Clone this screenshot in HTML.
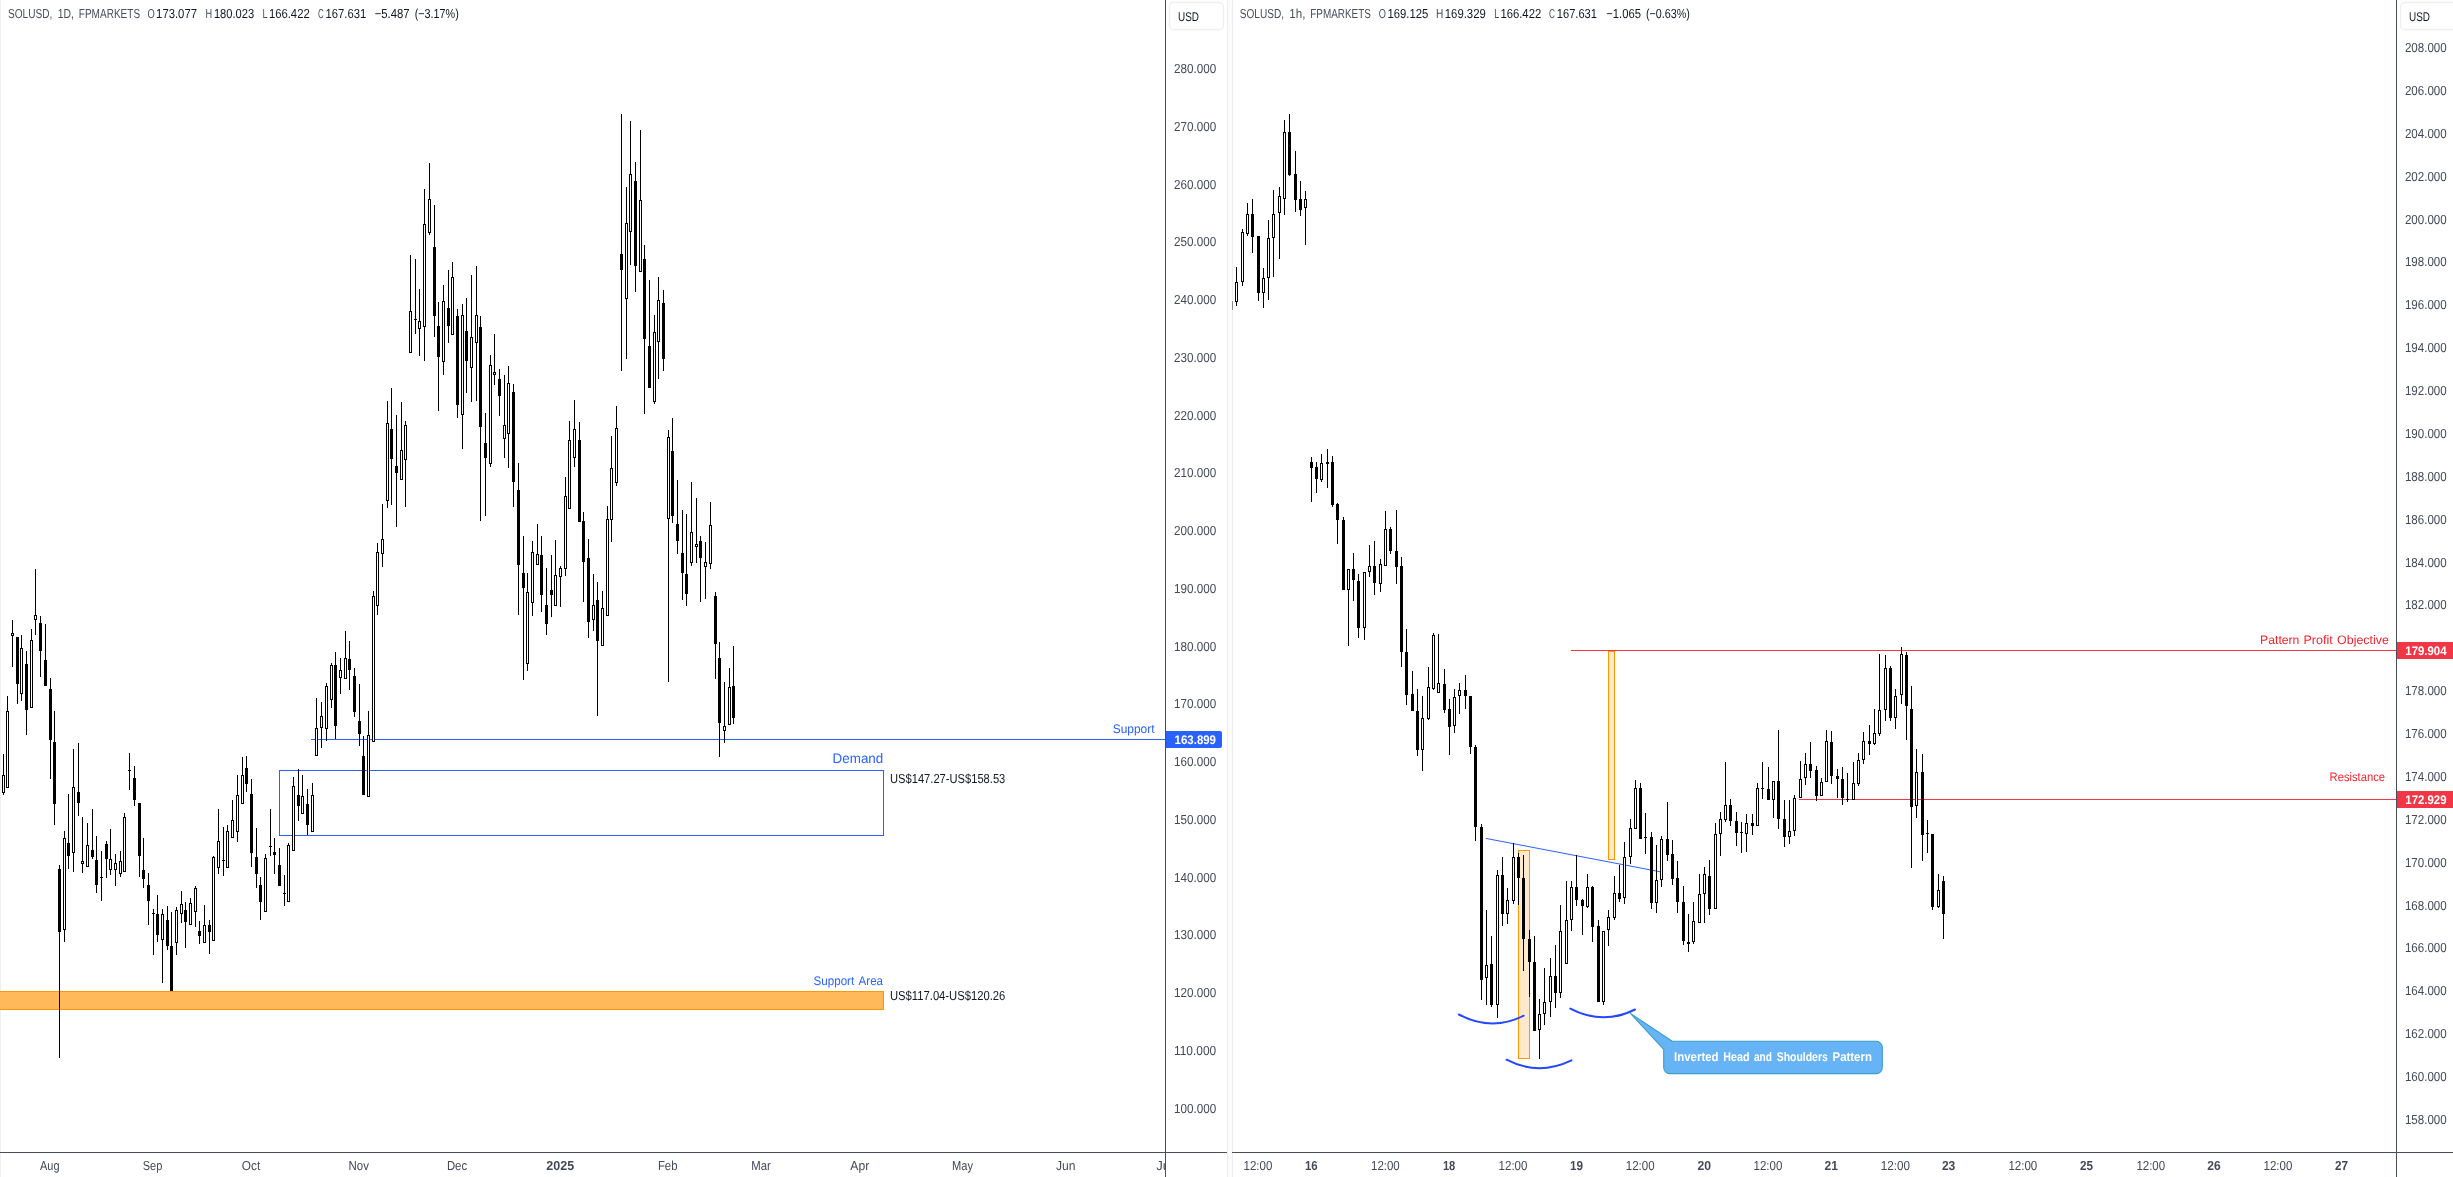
<!DOCTYPE html>
<html><head><meta charset="utf-8"><title>SOLUSD charts</title>
<style>html,body{margin:0;padding:0;background:#fff;}body{width:2453px;height:1177px;overflow:hidden;font-family:"Liberation Sans",sans-serif;}svg{display:block;will-change:transform}path,line{shape-rendering:geometricPrecision}</style>
</head><body>
<svg width="2453" height="1177" viewBox="0 0 2453 1177" font-family="Liberation Sans, sans-serif" shape-rendering="crispEdges" text-rendering="geometricPrecision"><rect x="0" y="0" width="1" height="1177" fill="#f0f0f1"/>
<rect x="1228" y="0" width="4" height="1177" fill="#fbfbfb"/>
<rect x="1227" y="0" width="1" height="1177" fill="#ededef"/>
<rect x="1232" y="0" width="1" height="1177" fill="#ededef"/>
<rect x="0" y="991" width="884" height="19" fill="#ffb95a"/>
<rect x="0" y="991" width="884" height="1" fill="#ff9800"/>
<rect x="0" y="1009" width="884" height="1" fill="#ff9800"/>
<rect x="883" y="991" width="1" height="19" fill="#ff9800"/>
<rect x="279" y="770" width="605" height="1" fill="#2962ff"/>
<rect x="279" y="835" width="605" height="1" fill="#2962ff"/>
<rect x="279" y="770" width="1" height="66" fill="#2962ff"/>
<rect x="883" y="770" width="1" height="66" fill="#2962ff"/>
<rect x="311" y="739" width="854" height="1" fill="#2962ff"/>
<rect x="3" y="754" width="1" height="41" fill="#000"/>
<rect x="2" y="775" width="3" height="18" fill="#000"/>
<rect x="3" y="776" width="1" height="16" fill="#fff"/>
<rect x="7" y="696" width="1" height="92" fill="#000"/>
<rect x="6" y="711" width="3" height="77" fill="#000"/>
<rect x="7" y="712" width="1" height="75" fill="#fff"/>
<rect x="12" y="620" width="1" height="47" fill="#000"/>
<rect x="11" y="633" width="3" height="3" fill="#000"/>
<rect x="12" y="634" width="1" height="1" fill="#fff"/>
<rect x="17" y="637" width="1" height="67" fill="#000"/>
<rect x="16" y="637" width="3" height="47" fill="#000"/>
<rect x="21" y="635" width="1" height="66" fill="#000"/>
<rect x="20" y="648" width="3" height="46" fill="#000"/>
<rect x="21" y="649" width="1" height="44" fill="#fff"/>
<rect x="26" y="651" width="1" height="84" fill="#000"/>
<rect x="25" y="664" width="3" height="46" fill="#000"/>
<rect x="31" y="629" width="1" height="79" fill="#000"/>
<rect x="30" y="640" width="3" height="68" fill="#000"/>
<rect x="31" y="641" width="1" height="66" fill="#fff"/>
<rect x="35" y="569" width="1" height="66" fill="#000"/>
<rect x="34" y="615" width="3" height="5" fill="#000"/>
<rect x="35" y="616" width="1" height="3" fill="#fff"/>
<rect x="40" y="616" width="1" height="61" fill="#000"/>
<rect x="39" y="623" width="3" height="28" fill="#000"/>
<rect x="45" y="624" width="1" height="62" fill="#000"/>
<rect x="44" y="660" width="3" height="26" fill="#000"/>
<rect x="50" y="678" width="1" height="101" fill="#000"/>
<rect x="49" y="689" width="3" height="51" fill="#000"/>
<rect x="54" y="711" width="1" height="114" fill="#000"/>
<rect x="53" y="742" width="3" height="62" fill="#000"/>
<rect x="59" y="865" width="1" height="193" fill="#000"/>
<rect x="58" y="869" width="3" height="63" fill="#000"/>
<rect x="64" y="831" width="1" height="111" fill="#000"/>
<rect x="63" y="838" width="3" height="92" fill="#000"/>
<rect x="64" y="839" width="1" height="90" fill="#fff"/>
<rect x="68" y="794" width="1" height="75" fill="#000"/>
<rect x="67" y="843" width="3" height="13" fill="#000"/>
<rect x="73" y="749" width="1" height="123" fill="#000"/>
<rect x="72" y="787" width="3" height="66" fill="#000"/>
<rect x="73" y="788" width="1" height="64" fill="#fff"/>
<rect x="78" y="743" width="1" height="73" fill="#000"/>
<rect x="77" y="792" width="3" height="11" fill="#000"/>
<rect x="82" y="817" width="1" height="56" fill="#000"/>
<rect x="81" y="861" width="3" height="3" fill="#000"/>
<rect x="82" y="862" width="1" height="1" fill="#fff"/>
<rect x="87" y="823" width="1" height="44" fill="#000"/>
<rect x="86" y="845" width="3" height="22" fill="#000"/>
<rect x="87" y="846" width="1" height="20" fill="#fff"/>
<rect x="92" y="809" width="1" height="50" fill="#000"/>
<rect x="91" y="850" width="3" height="7" fill="#000"/>
<rect x="96" y="836" width="1" height="57" fill="#000"/>
<rect x="95" y="860" width="3" height="25" fill="#000"/>
<rect x="101" y="851" width="1" height="50" fill="#000"/>
<rect x="100" y="877" width="3" height="1" fill="#000"/>
<rect x="106" y="841" width="1" height="37" fill="#000"/>
<rect x="105" y="844" width="3" height="15" fill="#000"/>
<rect x="110" y="829" width="1" height="46" fill="#000"/>
<rect x="109" y="859" width="3" height="11" fill="#000"/>
<rect x="110" y="860" width="1" height="9" fill="#fff"/>
<rect x="115" y="854" width="1" height="32" fill="#000"/>
<rect x="114" y="863" width="3" height="7" fill="#000"/>
<rect x="115" y="864" width="1" height="5" fill="#fff"/>
<rect x="120" y="851" width="1" height="26" fill="#000"/>
<rect x="119" y="861" width="3" height="13" fill="#000"/>
<rect x="120" y="862" width="1" height="11" fill="#fff"/>
<rect x="124" y="813" width="1" height="59" fill="#000"/>
<rect x="123" y="817" width="3" height="55" fill="#000"/>
<rect x="124" y="818" width="1" height="53" fill="#fff"/>
<rect x="129" y="753" width="1" height="37" fill="#000"/>
<rect x="128" y="770" width="3" height="1" fill="#000"/>
<rect x="134" y="766" width="1" height="40" fill="#000"/>
<rect x="133" y="778" width="3" height="22" fill="#000"/>
<rect x="139" y="803" width="1" height="74" fill="#000"/>
<rect x="138" y="803" width="3" height="53" fill="#000"/>
<rect x="143" y="838" width="1" height="50" fill="#000"/>
<rect x="142" y="870" width="3" height="9" fill="#000"/>
<rect x="148" y="873" width="1" height="52" fill="#000"/>
<rect x="147" y="885" width="3" height="16" fill="#000"/>
<rect x="153" y="909" width="1" height="46" fill="#000"/>
<rect x="152" y="913" width="3" height="1" fill="#000"/>
<rect x="157" y="895" width="1" height="47" fill="#000"/>
<rect x="156" y="914" width="3" height="21" fill="#000"/>
<rect x="162" y="909" width="1" height="74" fill="#000"/>
<rect x="161" y="914" width="3" height="26" fill="#000"/>
<rect x="162" y="915" width="1" height="24" fill="#fff"/>
<rect x="167" y="906" width="1" height="44" fill="#000"/>
<rect x="166" y="920" width="3" height="26" fill="#000"/>
<rect x="171" y="912" width="1" height="79" fill="#000"/>
<rect x="170" y="946" width="3" height="45" fill="#000"/>
<rect x="176" y="907" width="1" height="48" fill="#000"/>
<rect x="175" y="910" width="3" height="33" fill="#000"/>
<rect x="176" y="911" width="1" height="31" fill="#fff"/>
<rect x="181" y="891" width="1" height="32" fill="#000"/>
<rect x="180" y="904" width="3" height="10" fill="#000"/>
<rect x="181" y="905" width="1" height="8" fill="#fff"/>
<rect x="185" y="902" width="1" height="46" fill="#000"/>
<rect x="184" y="910" width="3" height="12" fill="#000"/>
<rect x="190" y="898" width="1" height="27" fill="#000"/>
<rect x="189" y="903" width="3" height="22" fill="#000"/>
<rect x="190" y="904" width="1" height="20" fill="#fff"/>
<rect x="195" y="886" width="1" height="41" fill="#000"/>
<rect x="194" y="888" width="3" height="24" fill="#000"/>
<rect x="195" y="889" width="1" height="22" fill="#fff"/>
<rect x="199" y="921" width="1" height="23" fill="#000"/>
<rect x="198" y="931" width="3" height="5" fill="#000"/>
<rect x="204" y="905" width="1" height="38" fill="#000"/>
<rect x="203" y="925" width="3" height="18" fill="#000"/>
<rect x="204" y="926" width="1" height="16" fill="#fff"/>
<rect x="209" y="920" width="1" height="34" fill="#000"/>
<rect x="208" y="925" width="3" height="7" fill="#000"/>
<rect x="213" y="856" width="1" height="85" fill="#000"/>
<rect x="212" y="857" width="3" height="84" fill="#000"/>
<rect x="213" y="858" width="1" height="82" fill="#fff"/>
<rect x="218" y="809" width="1" height="65" fill="#000"/>
<rect x="217" y="841" width="3" height="27" fill="#000"/>
<rect x="218" y="842" width="1" height="25" fill="#fff"/>
<rect x="223" y="827" width="1" height="49" fill="#000"/>
<rect x="222" y="860" width="3" height="1" fill="#000"/>
<rect x="227" y="825" width="1" height="43" fill="#000"/>
<rect x="226" y="831" width="3" height="37" fill="#000"/>
<rect x="227" y="832" width="1" height="35" fill="#fff"/>
<rect x="232" y="800" width="1" height="38" fill="#000"/>
<rect x="231" y="820" width="3" height="18" fill="#000"/>
<rect x="232" y="821" width="1" height="16" fill="#fff"/>
<rect x="237" y="775" width="1" height="67" fill="#000"/>
<rect x="236" y="795" width="3" height="37" fill="#000"/>
<rect x="237" y="796" width="1" height="35" fill="#fff"/>
<rect x="242" y="757" width="1" height="47" fill="#000"/>
<rect x="241" y="775" width="3" height="29" fill="#000"/>
<rect x="242" y="776" width="1" height="27" fill="#fff"/>
<rect x="246" y="756" width="1" height="36" fill="#000"/>
<rect x="245" y="768" width="3" height="16" fill="#000"/>
<rect x="251" y="779" width="1" height="88" fill="#000"/>
<rect x="250" y="794" width="3" height="59" fill="#000"/>
<rect x="256" y="828" width="1" height="60" fill="#000"/>
<rect x="255" y="857" width="3" height="17" fill="#000"/>
<rect x="260" y="877" width="1" height="43" fill="#000"/>
<rect x="259" y="885" width="3" height="17" fill="#000"/>
<rect x="265" y="854" width="1" height="58" fill="#000"/>
<rect x="264" y="858" width="3" height="54" fill="#000"/>
<rect x="265" y="859" width="1" height="52" fill="#fff"/>
<rect x="270" y="809" width="1" height="47" fill="#000"/>
<rect x="269" y="846" width="3" height="1" fill="#000"/>
<rect x="274" y="838" width="1" height="36" fill="#000"/>
<rect x="273" y="852" width="3" height="3" fill="#000"/>
<rect x="279" y="848" width="1" height="38" fill="#000"/>
<rect x="278" y="865" width="3" height="21" fill="#000"/>
<rect x="284" y="875" width="1" height="31" fill="#000"/>
<rect x="283" y="893" width="3" height="1" fill="#000"/>
<rect x="288" y="843" width="1" height="59" fill="#000"/>
<rect x="287" y="845" width="3" height="57" fill="#000"/>
<rect x="288" y="846" width="1" height="55" fill="#fff"/>
<rect x="293" y="777" width="1" height="74" fill="#000"/>
<rect x="292" y="786" width="3" height="65" fill="#000"/>
<rect x="293" y="787" width="1" height="63" fill="#fff"/>
<rect x="298" y="769" width="1" height="52" fill="#000"/>
<rect x="297" y="795" width="3" height="11" fill="#000"/>
<rect x="302" y="775" width="1" height="39" fill="#000"/>
<rect x="301" y="796" width="3" height="18" fill="#000"/>
<rect x="302" y="797" width="1" height="16" fill="#fff"/>
<rect x="307" y="789" width="1" height="46" fill="#000"/>
<rect x="306" y="804" width="3" height="21" fill="#000"/>
<rect x="312" y="783" width="1" height="49" fill="#000"/>
<rect x="311" y="795" width="3" height="37" fill="#000"/>
<rect x="312" y="796" width="1" height="35" fill="#fff"/>
<rect x="316" y="698" width="1" height="58" fill="#000"/>
<rect x="315" y="728" width="3" height="28" fill="#000"/>
<rect x="316" y="729" width="1" height="26" fill="#fff"/>
<rect x="321" y="702" width="1" height="46" fill="#000"/>
<rect x="320" y="716" width="3" height="12" fill="#000"/>
<rect x="321" y="717" width="1" height="10" fill="#fff"/>
<rect x="326" y="683" width="1" height="58" fill="#000"/>
<rect x="325" y="686" width="3" height="43" fill="#000"/>
<rect x="326" y="687" width="1" height="41" fill="#fff"/>
<rect x="331" y="663" width="1" height="45" fill="#000"/>
<rect x="330" y="665" width="3" height="35" fill="#000"/>
<rect x="331" y="666" width="1" height="33" fill="#fff"/>
<rect x="335" y="652" width="1" height="87" fill="#000"/>
<rect x="334" y="665" width="3" height="61" fill="#000"/>
<rect x="340" y="658" width="1" height="36" fill="#000"/>
<rect x="339" y="670" width="3" height="8" fill="#000"/>
<rect x="340" y="671" width="1" height="6" fill="#fff"/>
<rect x="345" y="631" width="1" height="48" fill="#000"/>
<rect x="344" y="658" width="3" height="21" fill="#000"/>
<rect x="345" y="659" width="1" height="19" fill="#fff"/>
<rect x="349" y="641" width="1" height="49" fill="#000"/>
<rect x="348" y="659" width="3" height="11" fill="#000"/>
<rect x="354" y="668" width="1" height="49" fill="#000"/>
<rect x="353" y="676" width="3" height="36" fill="#000"/>
<rect x="359" y="684" width="1" height="62" fill="#000"/>
<rect x="358" y="721" width="3" height="13" fill="#000"/>
<rect x="363" y="736" width="1" height="59" fill="#000"/>
<rect x="362" y="756" width="3" height="39" fill="#000"/>
<rect x="368" y="711" width="1" height="86" fill="#000"/>
<rect x="367" y="735" width="3" height="62" fill="#000"/>
<rect x="368" y="736" width="1" height="60" fill="#fff"/>
<rect x="373" y="591" width="1" height="151" fill="#000"/>
<rect x="372" y="596" width="3" height="146" fill="#000"/>
<rect x="373" y="597" width="1" height="144" fill="#fff"/>
<rect x="377" y="543" width="1" height="72" fill="#000"/>
<rect x="376" y="552" width="3" height="54" fill="#000"/>
<rect x="377" y="553" width="1" height="52" fill="#fff"/>
<rect x="382" y="504" width="1" height="63" fill="#000"/>
<rect x="381" y="539" width="3" height="15" fill="#000"/>
<rect x="382" y="540" width="1" height="13" fill="#fff"/>
<rect x="387" y="401" width="1" height="107" fill="#000"/>
<rect x="386" y="423" width="3" height="78" fill="#000"/>
<rect x="387" y="424" width="1" height="76" fill="#fff"/>
<rect x="391" y="388" width="1" height="117" fill="#000"/>
<rect x="390" y="429" width="3" height="30" fill="#000"/>
<rect x="396" y="415" width="1" height="112" fill="#000"/>
<rect x="395" y="466" width="3" height="7" fill="#000"/>
<rect x="401" y="402" width="1" height="78" fill="#000"/>
<rect x="400" y="450" width="3" height="30" fill="#000"/>
<rect x="401" y="451" width="1" height="28" fill="#fff"/>
<rect x="405" y="421" width="1" height="86" fill="#000"/>
<rect x="404" y="425" width="3" height="35" fill="#000"/>
<rect x="405" y="426" width="1" height="33" fill="#fff"/>
<rect x="410" y="255" width="1" height="98" fill="#000"/>
<rect x="409" y="311" width="3" height="42" fill="#000"/>
<rect x="410" y="312" width="1" height="40" fill="#fff"/>
<rect x="415" y="259" width="1" height="75" fill="#000"/>
<rect x="414" y="319" width="3" height="1" fill="#000"/>
<rect x="419" y="289" width="1" height="67" fill="#000"/>
<rect x="418" y="321" width="3" height="8" fill="#000"/>
<rect x="419" y="322" width="1" height="6" fill="#fff"/>
<rect x="424" y="189" width="1" height="172" fill="#000"/>
<rect x="423" y="224" width="3" height="103" fill="#000"/>
<rect x="424" y="225" width="1" height="101" fill="#fff"/>
<rect x="429" y="163" width="1" height="72" fill="#000"/>
<rect x="428" y="199" width="3" height="34" fill="#000"/>
<rect x="429" y="200" width="1" height="32" fill="#fff"/>
<rect x="434" y="205" width="1" height="132" fill="#000"/>
<rect x="433" y="247" width="3" height="69" fill="#000"/>
<rect x="438" y="302" width="1" height="109" fill="#000"/>
<rect x="437" y="326" width="3" height="31" fill="#000"/>
<rect x="443" y="285" width="1" height="90" fill="#000"/>
<rect x="442" y="301" width="3" height="61" fill="#000"/>
<rect x="443" y="302" width="1" height="59" fill="#fff"/>
<rect x="448" y="270" width="1" height="73" fill="#000"/>
<rect x="447" y="308" width="3" height="18" fill="#000"/>
<rect x="452" y="262" width="1" height="73" fill="#000"/>
<rect x="451" y="277" width="3" height="58" fill="#000"/>
<rect x="452" y="278" width="1" height="56" fill="#fff"/>
<rect x="457" y="309" width="1" height="109" fill="#000"/>
<rect x="456" y="316" width="3" height="89" fill="#000"/>
<rect x="462" y="304" width="1" height="145" fill="#000"/>
<rect x="461" y="315" width="3" height="100" fill="#000"/>
<rect x="462" y="316" width="1" height="98" fill="#fff"/>
<rect x="466" y="298" width="1" height="95" fill="#000"/>
<rect x="465" y="331" width="3" height="30" fill="#000"/>
<rect x="471" y="275" width="1" height="127" fill="#000"/>
<rect x="470" y="337" width="3" height="31" fill="#000"/>
<rect x="471" y="338" width="1" height="29" fill="#fff"/>
<rect x="476" y="266" width="1" height="135" fill="#000"/>
<rect x="475" y="315" width="3" height="28" fill="#000"/>
<rect x="476" y="316" width="1" height="26" fill="#fff"/>
<rect x="480" y="316" width="1" height="205" fill="#000"/>
<rect x="479" y="327" width="3" height="100" fill="#000"/>
<rect x="485" y="413" width="1" height="103" fill="#000"/>
<rect x="484" y="443" width="3" height="15" fill="#000"/>
<rect x="490" y="355" width="1" height="112" fill="#000"/>
<rect x="489" y="365" width="3" height="99" fill="#000"/>
<rect x="490" y="366" width="1" height="97" fill="#fff"/>
<rect x="494" y="334" width="1" height="51" fill="#000"/>
<rect x="493" y="372" width="3" height="3" fill="#000"/>
<rect x="494" y="373" width="1" height="1" fill="#fff"/>
<rect x="499" y="369" width="1" height="47" fill="#000"/>
<rect x="498" y="379" width="3" height="17" fill="#000"/>
<rect x="504" y="375" width="1" height="83" fill="#000"/>
<rect x="503" y="425" width="3" height="14" fill="#000"/>
<rect x="504" y="426" width="1" height="12" fill="#fff"/>
<rect x="508" y="366" width="1" height="102" fill="#000"/>
<rect x="507" y="383" width="3" height="51" fill="#000"/>
<rect x="508" y="384" width="1" height="49" fill="#fff"/>
<rect x="513" y="384" width="1" height="123" fill="#000"/>
<rect x="512" y="392" width="3" height="90" fill="#000"/>
<rect x="518" y="463" width="1" height="152" fill="#000"/>
<rect x="517" y="490" width="3" height="75" fill="#000"/>
<rect x="523" y="536" width="1" height="144" fill="#000"/>
<rect x="522" y="573" width="3" height="15" fill="#000"/>
<rect x="527" y="573" width="1" height="98" fill="#000"/>
<rect x="526" y="592" width="3" height="72" fill="#000"/>
<rect x="527" y="593" width="1" height="70" fill="#fff"/>
<rect x="532" y="541" width="1" height="75" fill="#000"/>
<rect x="531" y="552" width="3" height="51" fill="#000"/>
<rect x="532" y="553" width="1" height="49" fill="#fff"/>
<rect x="537" y="524" width="1" height="41" fill="#000"/>
<rect x="536" y="554" width="3" height="11" fill="#000"/>
<rect x="537" y="555" width="1" height="9" fill="#fff"/>
<rect x="541" y="536" width="1" height="76" fill="#000"/>
<rect x="540" y="555" width="3" height="40" fill="#000"/>
<rect x="546" y="568" width="1" height="67" fill="#000"/>
<rect x="545" y="605" width="3" height="19" fill="#000"/>
<rect x="551" y="555" width="1" height="62" fill="#000"/>
<rect x="550" y="590" width="3" height="5" fill="#000"/>
<rect x="555" y="540" width="1" height="66" fill="#000"/>
<rect x="554" y="575" width="3" height="31" fill="#000"/>
<rect x="555" y="576" width="1" height="29" fill="#fff"/>
<rect x="560" y="566" width="1" height="41" fill="#000"/>
<rect x="559" y="568" width="3" height="9" fill="#000"/>
<rect x="560" y="569" width="1" height="7" fill="#fff"/>
<rect x="565" y="477" width="1" height="99" fill="#000"/>
<rect x="564" y="496" width="3" height="73" fill="#000"/>
<rect x="565" y="497" width="1" height="71" fill="#fff"/>
<rect x="569" y="421" width="1" height="88" fill="#000"/>
<rect x="568" y="440" width="3" height="69" fill="#000"/>
<rect x="569" y="441" width="1" height="67" fill="#fff"/>
<rect x="574" y="400" width="1" height="67" fill="#000"/>
<rect x="573" y="429" width="3" height="29" fill="#000"/>
<rect x="574" y="430" width="1" height="27" fill="#fff"/>
<rect x="579" y="422" width="1" height="100" fill="#000"/>
<rect x="578" y="440" width="3" height="82" fill="#000"/>
<rect x="583" y="512" width="1" height="90" fill="#000"/>
<rect x="582" y="521" width="3" height="41" fill="#000"/>
<rect x="588" y="539" width="1" height="99" fill="#000"/>
<rect x="587" y="558" width="3" height="64" fill="#000"/>
<rect x="593" y="574" width="1" height="57" fill="#000"/>
<rect x="592" y="605" width="3" height="15" fill="#000"/>
<rect x="593" y="606" width="1" height="13" fill="#fff"/>
<rect x="597" y="582" width="1" height="134" fill="#000"/>
<rect x="596" y="600" width="3" height="41" fill="#000"/>
<rect x="602" y="591" width="1" height="55" fill="#000"/>
<rect x="601" y="608" width="3" height="38" fill="#000"/>
<rect x="602" y="609" width="1" height="36" fill="#fff"/>
<rect x="607" y="506" width="1" height="110" fill="#000"/>
<rect x="606" y="519" width="3" height="97" fill="#000"/>
<rect x="607" y="520" width="1" height="95" fill="#fff"/>
<rect x="611" y="436" width="1" height="106" fill="#000"/>
<rect x="610" y="468" width="3" height="52" fill="#000"/>
<rect x="611" y="469" width="1" height="50" fill="#fff"/>
<rect x="616" y="406" width="1" height="80" fill="#000"/>
<rect x="615" y="428" width="3" height="55" fill="#000"/>
<rect x="616" y="429" width="1" height="53" fill="#fff"/>
<rect x="621" y="114" width="1" height="257" fill="#000"/>
<rect x="620" y="254" width="3" height="16" fill="#000"/>
<rect x="626" y="187" width="1" height="172" fill="#000"/>
<rect x="625" y="223" width="3" height="76" fill="#000"/>
<rect x="626" y="224" width="1" height="74" fill="#fff"/>
<rect x="630" y="121" width="1" height="144" fill="#000"/>
<rect x="629" y="174" width="3" height="58" fill="#000"/>
<rect x="630" y="175" width="1" height="56" fill="#fff"/>
<rect x="635" y="162" width="1" height="130" fill="#000"/>
<rect x="634" y="181" width="3" height="85" fill="#000"/>
<rect x="640" y="130" width="1" height="142" fill="#000"/>
<rect x="639" y="200" width="3" height="72" fill="#000"/>
<rect x="640" y="201" width="1" height="70" fill="#fff"/>
<rect x="644" y="245" width="1" height="169" fill="#000"/>
<rect x="643" y="259" width="3" height="80" fill="#000"/>
<rect x="649" y="280" width="1" height="108" fill="#000"/>
<rect x="648" y="346" width="3" height="42" fill="#000"/>
<rect x="654" y="315" width="1" height="89" fill="#000"/>
<rect x="653" y="332" width="3" height="70" fill="#000"/>
<rect x="654" y="333" width="1" height="68" fill="#fff"/>
<rect x="658" y="277" width="1" height="102" fill="#000"/>
<rect x="657" y="300" width="3" height="42" fill="#000"/>
<rect x="658" y="301" width="1" height="40" fill="#fff"/>
<rect x="663" y="290" width="1" height="81" fill="#000"/>
<rect x="662" y="303" width="3" height="56" fill="#000"/>
<rect x="668" y="430" width="1" height="252" fill="#000"/>
<rect x="667" y="437" width="3" height="82" fill="#000"/>
<rect x="668" y="438" width="1" height="80" fill="#fff"/>
<rect x="672" y="418" width="1" height="105" fill="#000"/>
<rect x="671" y="451" width="3" height="65" fill="#000"/>
<rect x="677" y="480" width="1" height="74" fill="#000"/>
<rect x="676" y="524" width="3" height="17" fill="#000"/>
<rect x="682" y="510" width="1" height="90" fill="#000"/>
<rect x="681" y="553" width="3" height="20" fill="#000"/>
<rect x="686" y="514" width="1" height="92" fill="#000"/>
<rect x="685" y="574" width="3" height="20" fill="#000"/>
<rect x="691" y="482" width="1" height="84" fill="#000"/>
<rect x="690" y="532" width="3" height="31" fill="#000"/>
<rect x="691" y="533" width="1" height="29" fill="#fff"/>
<rect x="696" y="498" width="1" height="65" fill="#000"/>
<rect x="695" y="544" width="3" height="3" fill="#000"/>
<rect x="696" y="545" width="1" height="1" fill="#fff"/>
<rect x="700" y="536" width="1" height="66" fill="#000"/>
<rect x="699" y="541" width="3" height="17" fill="#000"/>
<rect x="705" y="542" width="1" height="57" fill="#000"/>
<rect x="704" y="562" width="3" height="5" fill="#000"/>
<rect x="705" y="563" width="1" height="3" fill="#fff"/>
<rect x="710" y="502" width="1" height="67" fill="#000"/>
<rect x="709" y="525" width="3" height="39" fill="#000"/>
<rect x="710" y="526" width="1" height="37" fill="#fff"/>
<rect x="715" y="592" width="1" height="87" fill="#000"/>
<rect x="714" y="596" width="3" height="48" fill="#000"/>
<rect x="719" y="642" width="1" height="115" fill="#000"/>
<rect x="718" y="658" width="3" height="65" fill="#000"/>
<rect x="724" y="682" width="1" height="61" fill="#000"/>
<rect x="723" y="726" width="3" height="5" fill="#000"/>
<rect x="724" y="727" width="1" height="3" fill="#fff"/>
<rect x="729" y="668" width="1" height="57" fill="#000"/>
<rect x="728" y="687" width="3" height="38" fill="#000"/>
<rect x="729" y="688" width="1" height="36" fill="#fff"/>
<rect x="733" y="646" width="1" height="78" fill="#000"/>
<rect x="732" y="686" width="3" height="32" fill="#000"/>
<text x="8.00" y="17.9" font-size="13" fill="#4a4e5e" textLength="44.30" lengthAdjust="spacingAndGlyphs">SOLUSD,</text>
<text x="57.70" y="17.9" font-size="13" fill="#4a4e5e" textLength="16.21" lengthAdjust="spacingAndGlyphs">1D,</text>
<text x="78.80" y="17.9" font-size="13" fill="#4a4e5e" textLength="61.32" lengthAdjust="spacingAndGlyphs">FPMARKETS</text>
<text x="147.60" y="17.9" font-size="13" fill="#4a4e5e" textLength="7.28" lengthAdjust="spacingAndGlyphs">O</text>
<text x="156.10" y="17.9" font-size="13" fill="#131722" textLength="40.90" lengthAdjust="spacingAndGlyphs">173.077</text>
<text x="205.60" y="17.9" font-size="13" fill="#4a4e5e" textLength="6.62" lengthAdjust="spacingAndGlyphs">H</text>
<text x="213.90" y="17.9" font-size="13" fill="#131722" textLength="40.30" lengthAdjust="spacingAndGlyphs">180.023</text>
<text x="262.60" y="17.9" font-size="13" fill="#4a4e5e" textLength="5.11" lengthAdjust="spacingAndGlyphs">L</text>
<text x="268.90" y="17.9" font-size="13" fill="#131722" textLength="40.80" lengthAdjust="spacingAndGlyphs">166.422</text>
<text x="317.90" y="17.9" font-size="13" fill="#4a4e5e" textLength="5.82" lengthAdjust="spacingAndGlyphs">C</text>
<text x="325.40" y="17.9" font-size="13" fill="#131722" textLength="40.90" lengthAdjust="spacingAndGlyphs">167.631</text>
<text x="374.70" y="17.9" font-size="13" fill="#131722" textLength="34.92" lengthAdjust="spacingAndGlyphs">−5.487</text>
<text x="414.70" y="17.9" font-size="13" fill="#131722" textLength="44.11" lengthAdjust="spacingAndGlyphs">(−3.17%)</text>
<text x="1112.70" y="732.8" font-size="12.4" fill="#2962ff" textLength="41.77" lengthAdjust="spacingAndGlyphs">Support</text>
<text x="832.60" y="762.8" font-size="13.8" fill="#2962ff" textLength="50.70" lengthAdjust="spacingAndGlyphs">Demand</text>
<text x="890.00" y="783" font-size="13" fill="#131722" textLength="115.31" lengthAdjust="spacingAndGlyphs">US$147.27-US$158.53</text>
<text x="813.60" y="984.9" font-size="12.5" fill="#2962ff" textLength="40.57" lengthAdjust="spacingAndGlyphs">Support</text>
<text x="858.60" y="984.9" font-size="12.5" fill="#2962ff" textLength="24.37" lengthAdjust="spacingAndGlyphs">Area</text>
<text x="890.00" y="999.8" font-size="13" fill="#131722" textLength="115.32" lengthAdjust="spacingAndGlyphs">US$117.04-US$120.26</text>
<text x="1174.00" y="1112.59" font-size="13" fill="#444858" textLength="42.20" lengthAdjust="spacingAndGlyphs">100.000</text>
<text x="1174.00" y="1054.84" font-size="13" fill="#444858" textLength="42.21" lengthAdjust="spacingAndGlyphs">110.000</text>
<text x="1174.00" y="997.08" font-size="13" fill="#444858" textLength="42.20" lengthAdjust="spacingAndGlyphs">120.000</text>
<text x="1174.00" y="939.325" font-size="13" fill="#444858" textLength="42.20" lengthAdjust="spacingAndGlyphs">130.000</text>
<text x="1174.00" y="881.57" font-size="13" fill="#444858" textLength="42.20" lengthAdjust="spacingAndGlyphs">140.000</text>
<text x="1174.00" y="823.815" font-size="13" fill="#444858" textLength="42.20" lengthAdjust="spacingAndGlyphs">150.000</text>
<text x="1174.00" y="766.06" font-size="13" fill="#444858" textLength="42.20" lengthAdjust="spacingAndGlyphs">160.000</text>
<text x="1174.00" y="708.305" font-size="13" fill="#444858" textLength="42.20" lengthAdjust="spacingAndGlyphs">170.000</text>
<text x="1174.00" y="650.55" font-size="13" fill="#444858" textLength="42.20" lengthAdjust="spacingAndGlyphs">180.000</text>
<text x="1174.00" y="592.795" font-size="13" fill="#444858" textLength="42.20" lengthAdjust="spacingAndGlyphs">190.000</text>
<text x="1174.00" y="535.04" font-size="13" fill="#444858" textLength="42.20" lengthAdjust="spacingAndGlyphs">200.000</text>
<text x="1174.00" y="477.285" font-size="13" fill="#444858" textLength="42.20" lengthAdjust="spacingAndGlyphs">210.000</text>
<text x="1174.00" y="419.53" font-size="13" fill="#444858" textLength="42.20" lengthAdjust="spacingAndGlyphs">220.000</text>
<text x="1174.00" y="361.775" font-size="13" fill="#444858" textLength="42.20" lengthAdjust="spacingAndGlyphs">230.000</text>
<text x="1174.00" y="304.02" font-size="13" fill="#444858" textLength="42.20" lengthAdjust="spacingAndGlyphs">240.000</text>
<text x="1174.00" y="246.265" font-size="13" fill="#444858" textLength="42.20" lengthAdjust="spacingAndGlyphs">250.000</text>
<text x="1174.00" y="188.51" font-size="13" fill="#444858" textLength="42.20" lengthAdjust="spacingAndGlyphs">260.000</text>
<text x="1174.00" y="130.755" font-size="13" fill="#444858" textLength="42.20" lengthAdjust="spacingAndGlyphs">270.000</text>
<text x="1174.00" y="73" font-size="13" fill="#444858" textLength="42.20" lengthAdjust="spacingAndGlyphs">280.000</text>
<path d="M1166 731H1220a2 2 0 0 1 2 2V746a2 2 0 0 1-2 2H1166Z" fill="#2962ff"/>
<text x="1174.60" y="743.8" font-size="12.4" fill="#fff" font-weight="bold" textLength="41.40" lengthAdjust="spacingAndGlyphs">163.899</text>
<rect x="1169.5" y="2.5" width="54" height="27" rx="4" fill="#fff" stroke="#efeff1" stroke-width="1.3" shape-rendering="geometricPrecision"/>
<text x="1178.00" y="20.8" font-size="12.6" fill="#131722" textLength="21.01" lengthAdjust="spacingAndGlyphs">USD</text>
<text x="40.00" y="1170" font-size="13" fill="#444858" textLength="19.49" lengthAdjust="spacingAndGlyphs">Aug</text>
<text x="142.70" y="1170" font-size="13" fill="#444858" textLength="19.59" lengthAdjust="spacingAndGlyphs">Sep</text>
<text x="241.80" y="1170" font-size="13" fill="#444858" textLength="18.41" lengthAdjust="spacingAndGlyphs">Oct</text>
<text x="348.60" y="1170" font-size="13" fill="#444858" textLength="20.38" lengthAdjust="spacingAndGlyphs">Nov</text>
<text x="446.90" y="1170" font-size="13" fill="#444858" textLength="20.18" lengthAdjust="spacingAndGlyphs">Dec</text>
<text x="657.90" y="1170" font-size="13" fill="#444858" textLength="19.58" lengthAdjust="spacingAndGlyphs">Feb</text>
<text x="751.20" y="1170" font-size="13" fill="#444858" textLength="19.53" lengthAdjust="spacingAndGlyphs">Mar</text>
<text x="850.30" y="1170" font-size="13" fill="#444858" textLength="18.92" lengthAdjust="spacingAndGlyphs">Apr</text>
<text x="952.00" y="1170" font-size="13" fill="#444858" textLength="20.99" lengthAdjust="spacingAndGlyphs">May</text>
<text x="1056.00" y="1170" font-size="13" fill="#444858" textLength="19.43" lengthAdjust="spacingAndGlyphs">Jun</text>
<text x="546.30" y="1170" font-size="13" fill="#444858" font-weight="bold" textLength="27.80" lengthAdjust="spacingAndGlyphs">2025</text>
<svg x="0" y="1153" width="1165" height="24" overflow="hidden"><text x="1156.2" y="17" font-size="13" fill="#444858">Jul</text></svg>
<rect x="0" y="1152" width="1227" height="1" fill="#4a4e5c"/>
<rect x="1165" y="0" width="1" height="1177" fill="#4a4e5c"/>
<rect x="1571" y="650" width="825" height="1" fill="#f23645"/>
<rect x="1799" y="799" width="597" height="1" fill="#f23645"/>
<rect x="1518.5" y="850.5" width="11" height="208" fill="#ffe9cc" stroke="#ff9800" stroke-width="1"/>
<rect x="1608.5" y="651.5" width="6" height="208" fill="#ffe9cc" stroke="#ff9800" stroke-width="1"/>
<line x1="1485.9" y1="838.4" x2="1660.3" y2="871.8" stroke="#2962ff" stroke-width="1"/>
<rect x="1232" y="301" width="1" height="9" fill="#8c8c8c"/>
<rect x="1236" y="267" width="1" height="39" fill="#000"/>
<rect x="1235" y="282" width="3" height="20" fill="#000"/>
<rect x="1236" y="283" width="1" height="18" fill="#fff"/>
<rect x="1242" y="229" width="1" height="57" fill="#000"/>
<rect x="1241" y="232" width="3" height="50" fill="#000"/>
<rect x="1242" y="233" width="1" height="48" fill="#fff"/>
<rect x="1247" y="203" width="1" height="33" fill="#000"/>
<rect x="1246" y="214" width="3" height="20" fill="#000"/>
<rect x="1247" y="215" width="1" height="18" fill="#fff"/>
<rect x="1252" y="199" width="1" height="54" fill="#000"/>
<rect x="1251" y="214" width="3" height="23" fill="#000"/>
<rect x="1258" y="236" width="1" height="65" fill="#000"/>
<rect x="1257" y="236" width="3" height="57" fill="#000"/>
<rect x="1263" y="268" width="1" height="40" fill="#000"/>
<rect x="1262" y="278" width="3" height="15" fill="#000"/>
<rect x="1263" y="279" width="1" height="13" fill="#fff"/>
<rect x="1268" y="220" width="1" height="80" fill="#000"/>
<rect x="1267" y="238" width="3" height="40" fill="#000"/>
<rect x="1268" y="239" width="1" height="38" fill="#fff"/>
<rect x="1273" y="190" width="1" height="87" fill="#000"/>
<rect x="1272" y="214" width="3" height="24" fill="#000"/>
<rect x="1273" y="215" width="1" height="22" fill="#fff"/>
<rect x="1279" y="187" width="1" height="72" fill="#000"/>
<rect x="1278" y="196" width="3" height="17" fill="#000"/>
<rect x="1279" y="197" width="1" height="15" fill="#fff"/>
<rect x="1284" y="120" width="1" height="95" fill="#000"/>
<rect x="1283" y="132" width="3" height="67" fill="#000"/>
<rect x="1284" y="133" width="1" height="65" fill="#fff"/>
<rect x="1289" y="114" width="1" height="62" fill="#000"/>
<rect x="1288" y="132" width="3" height="43" fill="#000"/>
<rect x="1295" y="151" width="1" height="61" fill="#000"/>
<rect x="1294" y="174" width="3" height="26" fill="#000"/>
<rect x="1300" y="181" width="1" height="35" fill="#000"/>
<rect x="1299" y="199" width="3" height="11" fill="#000"/>
<rect x="1305" y="191" width="1" height="54" fill="#000"/>
<rect x="1304" y="199" width="3" height="9" fill="#000"/>
<rect x="1305" y="200" width="1" height="7" fill="#fff"/>
<rect x="1311" y="457" width="1" height="45" fill="#000"/>
<rect x="1310" y="462" width="3" height="6" fill="#000"/>
<rect x="1316" y="462" width="1" height="31" fill="#000"/>
<rect x="1315" y="467" width="3" height="12" fill="#000"/>
<rect x="1321" y="454" width="1" height="28" fill="#000"/>
<rect x="1320" y="463" width="3" height="17" fill="#000"/>
<rect x="1321" y="464" width="1" height="15" fill="#fff"/>
<rect x="1327" y="449" width="1" height="39" fill="#000"/>
<rect x="1326" y="462" width="3" height="2" fill="#000"/>
<rect x="1332" y="456" width="1" height="51" fill="#000"/>
<rect x="1331" y="462" width="3" height="43" fill="#000"/>
<rect x="1337" y="503" width="1" height="41" fill="#000"/>
<rect x="1336" y="504" width="3" height="16" fill="#000"/>
<rect x="1343" y="517" width="1" height="73" fill="#000"/>
<rect x="1342" y="520" width="3" height="70" fill="#000"/>
<rect x="1348" y="569" width="1" height="77" fill="#000"/>
<rect x="1347" y="569" width="3" height="21" fill="#000"/>
<rect x="1348" y="570" width="1" height="19" fill="#fff"/>
<rect x="1353" y="553" width="1" height="48" fill="#000"/>
<rect x="1352" y="569" width="3" height="11" fill="#000"/>
<rect x="1358" y="574" width="1" height="64" fill="#000"/>
<rect x="1357" y="581" width="3" height="47" fill="#000"/>
<rect x="1364" y="572" width="1" height="68" fill="#000"/>
<rect x="1363" y="572" width="3" height="56" fill="#000"/>
<rect x="1364" y="573" width="1" height="54" fill="#fff"/>
<rect x="1369" y="545" width="1" height="32" fill="#000"/>
<rect x="1368" y="566" width="3" height="6" fill="#000"/>
<rect x="1369" y="567" width="1" height="4" fill="#fff"/>
<rect x="1374" y="541" width="1" height="54" fill="#000"/>
<rect x="1373" y="566" width="3" height="17" fill="#000"/>
<rect x="1380" y="559" width="1" height="33" fill="#000"/>
<rect x="1379" y="564" width="3" height="20" fill="#000"/>
<rect x="1380" y="565" width="1" height="18" fill="#fff"/>
<rect x="1385" y="511" width="1" height="55" fill="#000"/>
<rect x="1384" y="529" width="3" height="37" fill="#000"/>
<rect x="1385" y="530" width="1" height="35" fill="#fff"/>
<rect x="1390" y="527" width="1" height="27" fill="#000"/>
<rect x="1389" y="529" width="3" height="22" fill="#000"/>
<rect x="1396" y="510" width="1" height="74" fill="#000"/>
<rect x="1395" y="551" width="3" height="16" fill="#000"/>
<rect x="1401" y="557" width="1" height="110" fill="#000"/>
<rect x="1400" y="566" width="3" height="86" fill="#000"/>
<rect x="1406" y="629" width="1" height="76" fill="#000"/>
<rect x="1405" y="652" width="3" height="43" fill="#000"/>
<rect x="1412" y="671" width="1" height="40" fill="#000"/>
<rect x="1411" y="694" width="3" height="17" fill="#000"/>
<rect x="1417" y="689" width="1" height="67" fill="#000"/>
<rect x="1416" y="711" width="3" height="39" fill="#000"/>
<rect x="1422" y="696" width="1" height="75" fill="#000"/>
<rect x="1421" y="718" width="3" height="32" fill="#000"/>
<rect x="1422" y="719" width="1" height="30" fill="#fff"/>
<rect x="1428" y="667" width="1" height="53" fill="#000"/>
<rect x="1427" y="687" width="3" height="32" fill="#000"/>
<rect x="1428" y="688" width="1" height="30" fill="#fff"/>
<rect x="1433" y="633" width="1" height="57" fill="#000"/>
<rect x="1432" y="635" width="3" height="54" fill="#000"/>
<rect x="1433" y="636" width="1" height="52" fill="#fff"/>
<rect x="1438" y="634" width="1" height="59" fill="#000"/>
<rect x="1437" y="683" width="3" height="10" fill="#000"/>
<rect x="1438" y="684" width="1" height="8" fill="#fff"/>
<rect x="1444" y="669" width="1" height="44" fill="#000"/>
<rect x="1443" y="684" width="3" height="26" fill="#000"/>
<rect x="1449" y="699" width="1" height="56" fill="#000"/>
<rect x="1448" y="709" width="3" height="18" fill="#000"/>
<rect x="1454" y="689" width="1" height="44" fill="#000"/>
<rect x="1453" y="697" width="3" height="29" fill="#000"/>
<rect x="1454" y="698" width="1" height="27" fill="#fff"/>
<rect x="1459" y="683" width="1" height="31" fill="#000"/>
<rect x="1458" y="690" width="3" height="6" fill="#000"/>
<rect x="1459" y="691" width="1" height="4" fill="#fff"/>
<rect x="1465" y="675" width="1" height="34" fill="#000"/>
<rect x="1464" y="690" width="3" height="6" fill="#000"/>
<rect x="1470" y="696" width="1" height="58" fill="#000"/>
<rect x="1469" y="696" width="3" height="51" fill="#000"/>
<rect x="1475" y="745" width="1" height="96" fill="#000"/>
<rect x="1474" y="747" width="3" height="80" fill="#000"/>
<rect x="1481" y="824" width="1" height="176" fill="#000"/>
<rect x="1480" y="827" width="3" height="153" fill="#000"/>
<rect x="1486" y="910" width="1" height="95" fill="#000"/>
<rect x="1485" y="965" width="3" height="13" fill="#000"/>
<rect x="1486" y="966" width="1" height="11" fill="#fff"/>
<rect x="1491" y="936" width="1" height="71" fill="#000"/>
<rect x="1490" y="964" width="3" height="41" fill="#000"/>
<rect x="1497" y="870" width="1" height="148" fill="#000"/>
<rect x="1496" y="875" width="3" height="130" fill="#000"/>
<rect x="1497" y="876" width="1" height="128" fill="#fff"/>
<rect x="1502" y="857" width="1" height="69" fill="#000"/>
<rect x="1501" y="875" width="3" height="39" fill="#000"/>
<rect x="1507" y="888" width="1" height="36" fill="#000"/>
<rect x="1506" y="900" width="3" height="14" fill="#000"/>
<rect x="1507" y="901" width="1" height="12" fill="#fff"/>
<rect x="1513" y="843" width="1" height="61" fill="#000"/>
<rect x="1512" y="857" width="3" height="44" fill="#000"/>
<rect x="1513" y="858" width="1" height="42" fill="#fff"/>
<rect x="1518" y="853" width="1" height="52" fill="#000"/>
<rect x="1517" y="857" width="3" height="21" fill="#000"/>
<rect x="1523" y="855" width="1" height="116" fill="#000"/>
<rect x="1522" y="878" width="3" height="61" fill="#000"/>
<rect x="1529" y="930" width="1" height="67" fill="#000"/>
<rect x="1528" y="939" width="3" height="23" fill="#000"/>
<rect x="1534" y="936" width="1" height="95" fill="#000"/>
<rect x="1533" y="962" width="3" height="69" fill="#000"/>
<rect x="1539" y="999" width="1" height="60" fill="#000"/>
<rect x="1538" y="1014" width="3" height="16" fill="#000"/>
<rect x="1539" y="1015" width="1" height="14" fill="#fff"/>
<rect x="1544" y="968" width="1" height="57" fill="#000"/>
<rect x="1543" y="1002" width="3" height="12" fill="#000"/>
<rect x="1544" y="1003" width="1" height="10" fill="#fff"/>
<rect x="1550" y="958" width="1" height="59" fill="#000"/>
<rect x="1549" y="976" width="3" height="26" fill="#000"/>
<rect x="1550" y="977" width="1" height="24" fill="#fff"/>
<rect x="1555" y="945" width="1" height="63" fill="#000"/>
<rect x="1554" y="976" width="3" height="17" fill="#000"/>
<rect x="1560" y="905" width="1" height="93" fill="#000"/>
<rect x="1559" y="931" width="3" height="62" fill="#000"/>
<rect x="1560" y="932" width="1" height="60" fill="#fff"/>
<rect x="1566" y="881" width="1" height="83" fill="#000"/>
<rect x="1565" y="920" width="3" height="44" fill="#000"/>
<rect x="1566" y="921" width="1" height="42" fill="#fff"/>
<rect x="1571" y="881" width="1" height="50" fill="#000"/>
<rect x="1570" y="887" width="3" height="33" fill="#000"/>
<rect x="1571" y="888" width="1" height="31" fill="#fff"/>
<rect x="1576" y="855" width="1" height="51" fill="#000"/>
<rect x="1575" y="887" width="3" height="13" fill="#000"/>
<rect x="1582" y="899" width="1" height="36" fill="#000"/>
<rect x="1581" y="900" width="3" height="6" fill="#000"/>
<rect x="1587" y="874" width="1" height="34" fill="#000"/>
<rect x="1586" y="887" width="3" height="20" fill="#000"/>
<rect x="1587" y="888" width="1" height="18" fill="#fff"/>
<rect x="1592" y="886" width="1" height="56" fill="#000"/>
<rect x="1591" y="887" width="3" height="40" fill="#000"/>
<rect x="1598" y="920" width="1" height="82" fill="#000"/>
<rect x="1597" y="926" width="3" height="76" fill="#000"/>
<rect x="1603" y="931" width="1" height="74" fill="#000"/>
<rect x="1602" y="931" width="3" height="71" fill="#000"/>
<rect x="1603" y="932" width="1" height="69" fill="#fff"/>
<rect x="1608" y="910" width="1" height="36" fill="#000"/>
<rect x="1607" y="917" width="3" height="13" fill="#000"/>
<rect x="1608" y="918" width="1" height="11" fill="#fff"/>
<rect x="1614" y="876" width="1" height="44" fill="#000"/>
<rect x="1613" y="893" width="3" height="25" fill="#000"/>
<rect x="1614" y="894" width="1" height="23" fill="#fff"/>
<rect x="1619" y="865" width="1" height="37" fill="#000"/>
<rect x="1618" y="893" width="3" height="6" fill="#000"/>
<rect x="1624" y="842" width="1" height="62" fill="#000"/>
<rect x="1623" y="857" width="3" height="41" fill="#000"/>
<rect x="1624" y="858" width="1" height="39" fill="#fff"/>
<rect x="1630" y="819" width="1" height="45" fill="#000"/>
<rect x="1629" y="828" width="3" height="29" fill="#000"/>
<rect x="1630" y="829" width="1" height="27" fill="#fff"/>
<rect x="1635" y="780" width="1" height="49" fill="#000"/>
<rect x="1634" y="788" width="3" height="41" fill="#000"/>
<rect x="1635" y="789" width="1" height="39" fill="#fff"/>
<rect x="1640" y="783" width="1" height="56" fill="#000"/>
<rect x="1639" y="788" width="3" height="51" fill="#000"/>
<rect x="1645" y="813" width="1" height="41" fill="#000"/>
<rect x="1644" y="837" width="3" height="1" fill="#000"/>
<rect x="1651" y="832" width="1" height="77" fill="#000"/>
<rect x="1650" y="837" width="3" height="66" fill="#000"/>
<rect x="1656" y="845" width="1" height="68" fill="#000"/>
<rect x="1655" y="880" width="3" height="23" fill="#000"/>
<rect x="1656" y="881" width="1" height="21" fill="#fff"/>
<rect x="1661" y="836" width="1" height="51" fill="#000"/>
<rect x="1660" y="839" width="3" height="41" fill="#000"/>
<rect x="1661" y="840" width="1" height="39" fill="#fff"/>
<rect x="1667" y="802" width="1" height="59" fill="#000"/>
<rect x="1666" y="839" width="3" height="16" fill="#000"/>
<rect x="1672" y="840" width="1" height="45" fill="#000"/>
<rect x="1671" y="854" width="3" height="25" fill="#000"/>
<rect x="1677" y="861" width="1" height="52" fill="#000"/>
<rect x="1676" y="878" width="3" height="24" fill="#000"/>
<rect x="1683" y="886" width="1" height="59" fill="#000"/>
<rect x="1682" y="902" width="3" height="39" fill="#000"/>
<rect x="1688" y="914" width="1" height="38" fill="#000"/>
<rect x="1687" y="942" width="3" height="2" fill="#000"/>
<rect x="1693" y="902" width="1" height="42" fill="#000"/>
<rect x="1692" y="921" width="3" height="21" fill="#000"/>
<rect x="1693" y="922" width="1" height="19" fill="#fff"/>
<rect x="1699" y="874" width="1" height="49" fill="#000"/>
<rect x="1698" y="894" width="3" height="29" fill="#000"/>
<rect x="1699" y="895" width="1" height="27" fill="#fff"/>
<rect x="1704" y="867" width="1" height="56" fill="#000"/>
<rect x="1703" y="874" width="3" height="20" fill="#000"/>
<rect x="1704" y="875" width="1" height="18" fill="#fff"/>
<rect x="1709" y="860" width="1" height="55" fill="#000"/>
<rect x="1708" y="876" width="3" height="33" fill="#000"/>
<rect x="1715" y="823" width="1" height="86" fill="#000"/>
<rect x="1714" y="834" width="3" height="75" fill="#000"/>
<rect x="1715" y="835" width="1" height="73" fill="#fff"/>
<rect x="1720" y="812" width="1" height="44" fill="#000"/>
<rect x="1719" y="819" width="3" height="15" fill="#000"/>
<rect x="1720" y="820" width="1" height="13" fill="#fff"/>
<rect x="1725" y="762" width="1" height="60" fill="#000"/>
<rect x="1724" y="805" width="3" height="15" fill="#000"/>
<rect x="1725" y="806" width="1" height="13" fill="#fff"/>
<rect x="1730" y="799" width="1" height="27" fill="#000"/>
<rect x="1729" y="805" width="3" height="16" fill="#000"/>
<rect x="1736" y="812" width="1" height="34" fill="#000"/>
<rect x="1735" y="821" width="3" height="12" fill="#000"/>
<rect x="1741" y="822" width="1" height="31" fill="#000"/>
<rect x="1740" y="832" width="3" height="1" fill="#000"/>
<rect x="1746" y="814" width="1" height="38" fill="#000"/>
<rect x="1745" y="823" width="3" height="11" fill="#000"/>
<rect x="1746" y="824" width="1" height="9" fill="#fff"/>
<rect x="1752" y="814" width="1" height="21" fill="#000"/>
<rect x="1751" y="823" width="3" height="3" fill="#000"/>
<rect x="1757" y="783" width="1" height="43" fill="#000"/>
<rect x="1756" y="788" width="3" height="38" fill="#000"/>
<rect x="1757" y="789" width="1" height="36" fill="#fff"/>
<rect x="1762" y="762" width="1" height="37" fill="#000"/>
<rect x="1761" y="788" width="3" height="1" fill="#000"/>
<rect x="1768" y="767" width="1" height="33" fill="#000"/>
<rect x="1767" y="789" width="3" height="11" fill="#000"/>
<rect x="1773" y="781" width="1" height="37" fill="#000"/>
<rect x="1772" y="781" width="3" height="19" fill="#000"/>
<rect x="1773" y="782" width="1" height="17" fill="#fff"/>
<rect x="1778" y="730" width="1" height="99" fill="#000"/>
<rect x="1777" y="781" width="3" height="38" fill="#000"/>
<rect x="1784" y="800" width="1" height="47" fill="#000"/>
<rect x="1783" y="819" width="3" height="18" fill="#000"/>
<rect x="1789" y="800" width="1" height="44" fill="#000"/>
<rect x="1788" y="831" width="3" height="6" fill="#000"/>
<rect x="1789" y="832" width="1" height="4" fill="#fff"/>
<rect x="1794" y="795" width="1" height="41" fill="#000"/>
<rect x="1793" y="798" width="3" height="33" fill="#000"/>
<rect x="1794" y="799" width="1" height="31" fill="#fff"/>
<rect x="1800" y="761" width="1" height="37" fill="#000"/>
<rect x="1799" y="779" width="3" height="19" fill="#000"/>
<rect x="1800" y="780" width="1" height="17" fill="#fff"/>
<rect x="1805" y="753" width="1" height="32" fill="#000"/>
<rect x="1804" y="764" width="3" height="14" fill="#000"/>
<rect x="1805" y="765" width="1" height="12" fill="#fff"/>
<rect x="1810" y="742" width="1" height="36" fill="#000"/>
<rect x="1809" y="764" width="3" height="7" fill="#000"/>
<rect x="1816" y="766" width="1" height="35" fill="#000"/>
<rect x="1815" y="770" width="3" height="26" fill="#000"/>
<rect x="1821" y="778" width="1" height="18" fill="#000"/>
<rect x="1820" y="782" width="3" height="14" fill="#000"/>
<rect x="1821" y="783" width="1" height="12" fill="#fff"/>
<rect x="1826" y="730" width="1" height="52" fill="#000"/>
<rect x="1825" y="741" width="3" height="41" fill="#000"/>
<rect x="1826" y="742" width="1" height="39" fill="#fff"/>
<rect x="1831" y="731" width="1" height="53" fill="#000"/>
<rect x="1830" y="742" width="3" height="34" fill="#000"/>
<rect x="1837" y="769" width="1" height="29" fill="#000"/>
<rect x="1836" y="776" width="3" height="3" fill="#000"/>
<rect x="1842" y="767" width="1" height="38" fill="#000"/>
<rect x="1841" y="779" width="3" height="19" fill="#000"/>
<rect x="1847" y="773" width="1" height="29" fill="#000"/>
<rect x="1846" y="799" width="3" height="1" fill="#000"/>
<rect x="1853" y="762" width="1" height="38" fill="#000"/>
<rect x="1852" y="783" width="3" height="17" fill="#000"/>
<rect x="1853" y="784" width="1" height="15" fill="#fff"/>
<rect x="1858" y="753" width="1" height="33" fill="#000"/>
<rect x="1857" y="760" width="3" height="24" fill="#000"/>
<rect x="1858" y="761" width="1" height="22" fill="#fff"/>
<rect x="1863" y="732" width="1" height="32" fill="#000"/>
<rect x="1862" y="741" width="3" height="19" fill="#000"/>
<rect x="1863" y="742" width="1" height="17" fill="#fff"/>
<rect x="1869" y="725" width="1" height="30" fill="#000"/>
<rect x="1868" y="741" width="3" height="3" fill="#000"/>
<rect x="1874" y="709" width="1" height="36" fill="#000"/>
<rect x="1873" y="733" width="3" height="11" fill="#000"/>
<rect x="1874" y="734" width="1" height="9" fill="#fff"/>
<rect x="1879" y="654" width="1" height="82" fill="#000"/>
<rect x="1878" y="710" width="3" height="24" fill="#000"/>
<rect x="1879" y="711" width="1" height="22" fill="#fff"/>
<rect x="1885" y="655" width="1" height="66" fill="#000"/>
<rect x="1884" y="668" width="3" height="42" fill="#000"/>
<rect x="1885" y="669" width="1" height="40" fill="#fff"/>
<rect x="1890" y="666" width="1" height="55" fill="#000"/>
<rect x="1889" y="668" width="3" height="50" fill="#000"/>
<rect x="1895" y="689" width="1" height="40" fill="#000"/>
<rect x="1894" y="696" width="3" height="22" fill="#000"/>
<rect x="1895" y="697" width="1" height="20" fill="#fff"/>
<rect x="1901" y="647" width="1" height="57" fill="#000"/>
<rect x="1900" y="654" width="3" height="41" fill="#000"/>
<rect x="1901" y="655" width="1" height="39" fill="#fff"/>
<rect x="1906" y="652" width="1" height="88" fill="#000"/>
<rect x="1905" y="655" width="3" height="51" fill="#000"/>
<rect x="1911" y="686" width="1" height="182" fill="#000"/>
<rect x="1910" y="709" width="3" height="98" fill="#000"/>
<rect x="1916" y="749" width="1" height="69" fill="#000"/>
<rect x="1915" y="772" width="3" height="34" fill="#000"/>
<rect x="1916" y="773" width="1" height="32" fill="#fff"/>
<rect x="1922" y="754" width="1" height="107" fill="#000"/>
<rect x="1921" y="772" width="3" height="63" fill="#000"/>
<rect x="1927" y="820" width="1" height="33" fill="#000"/>
<rect x="1926" y="833" width="3" height="1" fill="#000"/>
<rect x="1932" y="834" width="1" height="76" fill="#000"/>
<rect x="1931" y="834" width="3" height="73" fill="#000"/>
<rect x="1938" y="874" width="1" height="34" fill="#000"/>
<rect x="1937" y="890" width="3" height="17" fill="#000"/>
<rect x="1938" y="891" width="1" height="15" fill="#fff"/>
<rect x="1943" y="876" width="1" height="63" fill="#000"/>
<rect x="1942" y="881" width="3" height="33" fill="#000"/>
<path d="M1458.8 1014.5Q1491.95 1031.9 1523.7 1015.7" fill="none" stroke="#2448ff" stroke-width="2" stroke-linecap="round"/>
<path d="M1506.5 1059.7Q1538.2 1076.35 1571.5 1060.4" fill="none" stroke="#2448ff" stroke-width="2" stroke-linecap="round"/>
<path d="M1570.3 1008.6Q1603.15 1025.55 1635 1009.5" fill="none" stroke="#2448ff" stroke-width="2" stroke-linecap="round"/>
<path d="M1630.4 1013.4L1672.3 1041.3H1876.3a6 6 0 0 1 6 6V1067.6a6 6 0 0 1-6 6H1669.7a6 6 0 0 1-6-6V1049.3Z" fill="#66b4f5" stroke="#3a9fc8" stroke-width="1.1" stroke-linejoin="round"/>
<text x="1674.10" y="1060.9" font-size="12.6" fill="#fff" font-weight="bold" textLength="44.50" lengthAdjust="spacingAndGlyphs">Inverted</text>
<text x="1723.30" y="1060.9" font-size="12.6" fill="#fff" font-weight="bold" textLength="26.20" lengthAdjust="spacingAndGlyphs">Head</text>
<text x="1754.00" y="1060.9" font-size="12.6" fill="#fff" font-weight="bold" textLength="17.98" lengthAdjust="spacingAndGlyphs">and</text>
<text x="1776.70" y="1060.9" font-size="12.6" fill="#fff" font-weight="bold" textLength="51.10" lengthAdjust="spacingAndGlyphs">Shoulders</text>
<text x="1832.50" y="1060.9" font-size="12.6" fill="#fff" font-weight="bold" textLength="39.41" lengthAdjust="spacingAndGlyphs">Pattern</text>
<text x="1239.70" y="17.9" font-size="13" fill="#4a4e5e" textLength="44.30" lengthAdjust="spacingAndGlyphs">SOLUSD,</text>
<text x="1289.30" y="17.9" font-size="13" fill="#4a4e5e" textLength="16.10" lengthAdjust="spacingAndGlyphs">1h,</text>
<text x="1310.30" y="17.9" font-size="13" fill="#4a4e5e" textLength="60.62" lengthAdjust="spacingAndGlyphs">FPMARKETS</text>
<text x="1378.80" y="17.9" font-size="13" fill="#4a4e5e" textLength="7.18" lengthAdjust="spacingAndGlyphs">O</text>
<text x="1387.40" y="17.9" font-size="13" fill="#131722" textLength="40.90" lengthAdjust="spacingAndGlyphs">169.125</text>
<text x="1436.10" y="17.9" font-size="13" fill="#4a4e5e" textLength="7.32" lengthAdjust="spacingAndGlyphs">H</text>
<text x="1444.80" y="17.9" font-size="13" fill="#131722" textLength="41.00" lengthAdjust="spacingAndGlyphs">169.329</text>
<text x="1494.20" y="17.9" font-size="13" fill="#4a4e5e" textLength="4.91" lengthAdjust="spacingAndGlyphs">L</text>
<text x="1500.40" y="17.9" font-size="13" fill="#131722" textLength="40.80" lengthAdjust="spacingAndGlyphs">166.422</text>
<text x="1549.00" y="17.9" font-size="13" fill="#4a4e5e" textLength="5.92" lengthAdjust="spacingAndGlyphs">C</text>
<text x="1556.80" y="17.9" font-size="13" fill="#131722" textLength="40.20" lengthAdjust="spacingAndGlyphs">167.631</text>
<text x="1606.20" y="17.9" font-size="13" fill="#131722" textLength="34.82" lengthAdjust="spacingAndGlyphs">−1.065</text>
<text x="1645.90" y="17.9" font-size="13" fill="#131722" textLength="44.01" lengthAdjust="spacingAndGlyphs">(−0.63%)</text>
<text x="2260.10" y="644" font-size="12.3" fill="#f5222d" textLength="39.29" lengthAdjust="spacingAndGlyphs">Pattern</text>
<text x="2303.50" y="644" font-size="12.3" fill="#f5222d" textLength="29.29" lengthAdjust="spacingAndGlyphs">Profit</text>
<text x="2337.10" y="644" font-size="12.3" fill="#f5222d" textLength="51.78" lengthAdjust="spacingAndGlyphs">Objective</text>
<text x="2329.60" y="780.5" font-size="12.3" fill="#f5222d" textLength="55.42" lengthAdjust="spacingAndGlyphs">Resistance</text>
<text x="2404.90" y="1124" font-size="13" fill="#444858" textLength="41.80" lengthAdjust="spacingAndGlyphs">158.000</text>
<text x="2404.90" y="1081.12" font-size="13" fill="#444858" textLength="41.80" lengthAdjust="spacingAndGlyphs">160.000</text>
<text x="2404.90" y="1038.24" font-size="13" fill="#444858" textLength="41.80" lengthAdjust="spacingAndGlyphs">162.000</text>
<text x="2404.90" y="995.36" font-size="13" fill="#444858" textLength="41.80" lengthAdjust="spacingAndGlyphs">164.000</text>
<text x="2404.90" y="952.48" font-size="13" fill="#444858" textLength="41.80" lengthAdjust="spacingAndGlyphs">166.000</text>
<text x="2404.90" y="909.6" font-size="13" fill="#444858" textLength="41.80" lengthAdjust="spacingAndGlyphs">168.000</text>
<text x="2404.90" y="866.72" font-size="13" fill="#444858" textLength="41.80" lengthAdjust="spacingAndGlyphs">170.000</text>
<text x="2404.90" y="823.84" font-size="13" fill="#444858" textLength="41.80" lengthAdjust="spacingAndGlyphs">172.000</text>
<text x="2404.90" y="780.96" font-size="13" fill="#444858" textLength="41.80" lengthAdjust="spacingAndGlyphs">174.000</text>
<text x="2404.90" y="738.08" font-size="13" fill="#444858" textLength="41.80" lengthAdjust="spacingAndGlyphs">176.000</text>
<text x="2404.90" y="695.2" font-size="13" fill="#444858" textLength="41.80" lengthAdjust="spacingAndGlyphs">178.000</text>
<text x="2404.90" y="652.32" font-size="13" fill="#444858" textLength="41.80" lengthAdjust="spacingAndGlyphs">180.000</text>
<text x="2404.90" y="609.44" font-size="13" fill="#444858" textLength="41.80" lengthAdjust="spacingAndGlyphs">182.000</text>
<text x="2404.90" y="566.56" font-size="13" fill="#444858" textLength="41.80" lengthAdjust="spacingAndGlyphs">184.000</text>
<text x="2404.90" y="523.68" font-size="13" fill="#444858" textLength="41.80" lengthAdjust="spacingAndGlyphs">186.000</text>
<text x="2404.90" y="480.8" font-size="13" fill="#444858" textLength="41.80" lengthAdjust="spacingAndGlyphs">188.000</text>
<text x="2404.90" y="437.92" font-size="13" fill="#444858" textLength="41.80" lengthAdjust="spacingAndGlyphs">190.000</text>
<text x="2404.90" y="395.04" font-size="13" fill="#444858" textLength="41.80" lengthAdjust="spacingAndGlyphs">192.000</text>
<text x="2404.90" y="352.16" font-size="13" fill="#444858" textLength="41.80" lengthAdjust="spacingAndGlyphs">194.000</text>
<text x="2404.90" y="309.28" font-size="13" fill="#444858" textLength="41.80" lengthAdjust="spacingAndGlyphs">196.000</text>
<text x="2404.90" y="266.4" font-size="13" fill="#444858" textLength="41.80" lengthAdjust="spacingAndGlyphs">198.000</text>
<text x="2404.90" y="223.52" font-size="13" fill="#444858" textLength="41.80" lengthAdjust="spacingAndGlyphs">200.000</text>
<text x="2404.90" y="180.64" font-size="13" fill="#444858" textLength="41.80" lengthAdjust="spacingAndGlyphs">202.000</text>
<text x="2404.90" y="137.76" font-size="13" fill="#444858" textLength="41.80" lengthAdjust="spacingAndGlyphs">204.000</text>
<text x="2404.90" y="94.88" font-size="13" fill="#444858" textLength="41.80" lengthAdjust="spacingAndGlyphs">206.000</text>
<text x="2404.90" y="52" font-size="13" fill="#444858" textLength="41.80" lengthAdjust="spacingAndGlyphs">208.000</text>
<rect x="2397" y="642" width="56" height="17" fill="#f23645"/>
<rect x="2397" y="791" width="56" height="17" fill="#f23645"/>
<text x="2405.30" y="654.8" font-size="12.4" fill="#fff" font-weight="bold" textLength="41.20" lengthAdjust="spacingAndGlyphs">179.904</text>
<text x="2405.30" y="803.8" font-size="12.4" fill="#fff" font-weight="bold" textLength="41.20" lengthAdjust="spacingAndGlyphs">172.929</text>
<rect x="2400.5" y="2.5" width="60" height="27" rx="4" fill="#fff" stroke="#efeff1" stroke-width="1.3" shape-rendering="geometricPrecision"/>
<text x="2409.00" y="20.8" font-size="12.6" fill="#131722" textLength="21.01" lengthAdjust="spacingAndGlyphs">USD</text>
<text x="1243.50" y="1170" font-size="13" fill="#444858" textLength="28.87" lengthAdjust="spacingAndGlyphs">12:00</text>
<text x="1304.90" y="1170" font-size="13" fill="#444858" font-weight="bold" textLength="12.73" lengthAdjust="spacingAndGlyphs">16</text>
<text x="1371.00" y="1170" font-size="13" fill="#444858" textLength="28.77" lengthAdjust="spacingAndGlyphs">12:00</text>
<text x="1442.90" y="1170" font-size="13" fill="#444858" font-weight="bold" textLength="12.43" lengthAdjust="spacingAndGlyphs">18</text>
<text x="1498.60" y="1170" font-size="13" fill="#444858" textLength="28.87" lengthAdjust="spacingAndGlyphs">12:00</text>
<text x="1570.00" y="1170" font-size="13" fill="#444858" font-weight="bold" textLength="13.03" lengthAdjust="spacingAndGlyphs">19</text>
<text x="1625.80" y="1170" font-size="13" fill="#444858" textLength="28.87" lengthAdjust="spacingAndGlyphs">12:00</text>
<text x="1697.50" y="1170" font-size="13" fill="#444858" font-weight="bold" textLength="13.53" lengthAdjust="spacingAndGlyphs">20</text>
<text x="1753.50" y="1170" font-size="13" fill="#444858" textLength="28.87" lengthAdjust="spacingAndGlyphs">12:00</text>
<text x="1824.50" y="1170" font-size="13" fill="#444858" font-weight="bold" textLength="13.43" lengthAdjust="spacingAndGlyphs">21</text>
<text x="1880.70" y="1170" font-size="13" fill="#444858" textLength="29.27" lengthAdjust="spacingAndGlyphs">12:00</text>
<text x="1941.90" y="1170" font-size="13" fill="#444858" font-weight="bold" textLength="13.43" lengthAdjust="spacingAndGlyphs">23</text>
<text x="2008.40" y="1170" font-size="13" fill="#444858" textLength="28.87" lengthAdjust="spacingAndGlyphs">12:00</text>
<text x="2080.00" y="1170" font-size="13" fill="#444858" font-weight="bold" textLength="13.03" lengthAdjust="spacingAndGlyphs">25</text>
<text x="2136.40" y="1170" font-size="13" fill="#444858" textLength="28.77" lengthAdjust="spacingAndGlyphs">12:00</text>
<text x="2207.30" y="1170" font-size="13" fill="#444858" font-weight="bold" textLength="13.43" lengthAdjust="spacingAndGlyphs">26</text>
<text x="2263.50" y="1170" font-size="13" fill="#444858" textLength="28.87" lengthAdjust="spacingAndGlyphs">12:00</text>
<text x="2335.00" y="1170" font-size="13" fill="#444858" font-weight="bold" textLength="13.03" lengthAdjust="spacingAndGlyphs">27</text>
<rect x="1232" y="1152" width="1221" height="1" fill="#4a4e5c"/>
<rect x="2396" y="0" width="1" height="1177" fill="#4a4e5c"/></svg>
</body></html>
